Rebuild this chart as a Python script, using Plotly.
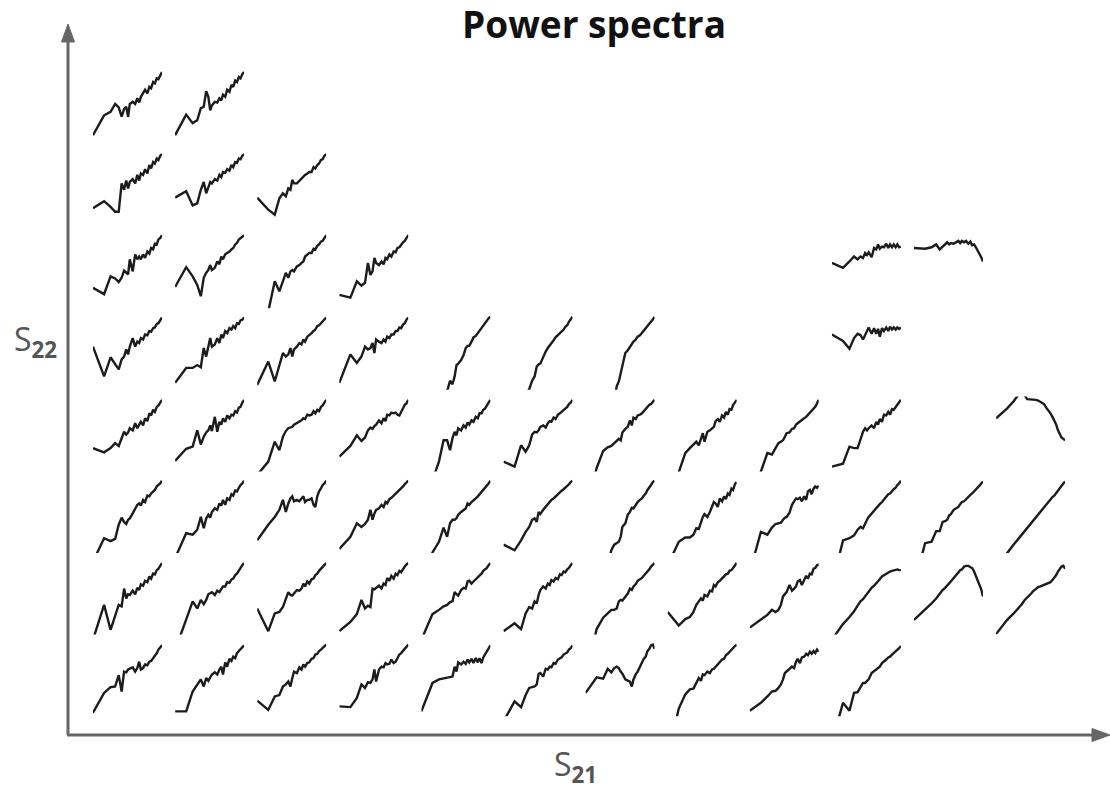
import plotly.graph_objects as go

# frequency bins (log-spaced index) shared by every spectrum
FREQ = [1, 2, 3, 4, 5, 6, 7, 8, 9, 10, 12, 14, 16, 18, 20, 23, 26, 30, 34, 38, 43, 48, 54, 60, 67, 75]

# normalised log power per panel, keyed by column (S21 index); one dict per row (S22 index, top row first)
row1 = {
    1: [.11,.39,.44,.55,.50,.37,.48,.51,.37,.55,.58,.55,.63,.57,.65,.70,.75,.70,.79,.77,.86,.84,.91,.90,.96,1.0],
    2: [.11,.40,.28,.32,.49,.51,.73,.65,.46,.53,.58,.57,.63,.60,.68,.65,.75,.72,.82,.79,.88,.86,.93,.91,.97,1.0],
}
row2 = {
    1: [.23,.33,.25,.18,.18,.58,.49,.62,.51,.60,.64,.58,.70,.62,.72,.70,.78,.72,.84,.79,.88,.86,.93,.91,.97,.99],
    2: [.38,.47,.27,.30,.49,.60,.44,.53,.60,.58,.64,.62,.70,.67,.74,.73,.78,.76,.84,.81,.88,.87,.93,.92,.97,.99],
    3: [.38,.21,.14,.37,.44,.40,.51,.49,.63,.58,.58,.62,.64,.67,.70,.72,.74,.74,.81,.79,.84,.86,.91,.92,.97,.99],
}
row3 = {
    1: [.26,.17,.42,.39,.34,.40,.50,.47,.45,.66,.49,.73,.66,.70,.66,.73,.68,.77,.74,.82,.80,.88,.87,.94,.96,1.0],
    2: [.27,.55,.42,.30,.14,.40,.47,.51,.58,.51,.54,.63,.59,.70,.66,.73,.75,.77,.80,.82,.87,.89,.94,.96,.98,1.0],
    3: [-.8,-.05,.35,.21,.37,.47,.40,.49,.51,.49,.56,.58,.61,.63,.70,.73,.75,.75,.81,.80,.85,.87,.91,.92,.97,1.0],
    4: [.16,.12,.35,.29,.33,.61,.44,.49,.68,.61,.58,.63,.59,.68,.66,.73,.70,.77,.76,.82,.83,.87,.90,.92,.97,1.0],
    10: [.61,.54,.63,.70,.66,.70,.68,.75,.72,.76,.69,.82,.80,.87,.81,.84,.83,.88,.82,.87,.83,.87,.83,.87,.83,.84],
    11: [.82,.81,.83,.87,.80,.84,.88,.90,.87,.89,.88,.90,.92,.89,.92,.90,.92,.88,.91,.86,.87,.83,.78,.75,.69,.63],
}
row4 = {
    1: [.58,.16,.43,.33,.26,.40,.44,.54,.47,.58,.70,.58,.65,.63,.70,.68,.75,.74,.80,.79,.84,.85,.90,.91,.96,.99],
    2: [.07,.28,.28,.32,.29,.56,.44,.58,.70,.58,.61,.70,.63,.75,.70,.80,.77,.84,.82,.87,.84,.91,.90,.95,.96,.99],
    3: [.04,.37,.09,.33,.49,.44,.47,.56,.44,.54,.58,.63,.61,.68,.65,.72,.75,.77,.80,.82,.87,.88,.91,.94,.96,.99],
    4: [.07,.47,.35,.44,.58,.54,.56,.63,.49,.68,.65,.63,.68,.65,.72,.70,.75,.75,.80,.80,.85,.84,.89,.91,.96,.99],
    5: [-1.5,-1.0,-.6,-.3,-.05,.10,.05,.16,.32,.34,.39,.46,.56,.59,.59,.65,.71,.73,.77,.80,.84,.88,.91,.95,.98,1.0],
    6: [-2.0,-1.2,-.5,-.1,-.02,.10,.16,.30,.33,.34,.44,.51,.56,.60,.64,.67,.71,.74,.77,.79,.82,.86,.88,.93,.96,1.0],
    7: [-3.0,-2.0,-1.5,-1.0,-.6,-.2,.02,.09,.20,.30,.49,.53,.58,.62,.65,.68,.72,.74,.78,.80,.84,.87,.90,.93,.96,1.0],
    10: [.75,.66,.55,.70,.76,.74,.68,.75,.82,.85,.76,.84,.76,.83,.72,.84,.80,.85,.80,.86,.82,.85,.82,.85,.83,.85],
}
row5 = {
    1: [.30,.24,.30,.37,.33,.44,.53,.49,.52,.58,.55,.65,.58,.63,.67,.62,.72,.68,.79,.76,.84,.81,.88,.90,.94,.98],
    2: [.12,.29,.32,.55,.35,.46,.52,.55,.62,.54,.74,.53,.67,.63,.72,.67,.76,.72,.77,.76,.82,.80,.87,.88,.94,.98],
    3: [-.08,.11,.39,.27,.46,.54,.58,.59,.60,.63,.65,.67,.69,.72,.71,.77,.76,.77,.82,.79,.84,.82,.88,.90,.95,.98],
    4: [.18,.33,.48,.40,.45,.55,.59,.57,.61,.63,.69,.65,.72,.68,.77,.76,.80,.79,.80,.77,.76,.82,.86,.91,.93,.98],
    5: [-1.0,-.15,.11,.41,.41,.27,.44,.53,.48,.58,.55,.62,.59,.66,.63,.69,.67,.74,.72,.79,.79,.84,.86,.91,.94,.98],
    6: [.11,.04,.34,.25,.34,.49,.53,.52,.55,.60,.62,.59,.65,.68,.67,.73,.71,.77,.79,.81,.84,.86,.88,.92,.94,.98],
    7: [-.6,.02,.26,.31,.33,.37,.39,.43,.41,.52,.57,.60,.69,.62,.73,.71,.76,.77,.79,.82,.85,.87,.91,.92,.95,.98],
    8: [-.5,-.02,.23,.30,.35,.39,.34,.44,.51,.39,.53,.55,.58,.60,.68,.71,.67,.76,.73,.81,.77,.85,.84,.91,.94,.98],
    9: [-.8,-.03,.23,.21,.30,.37,.39,.41,.46,.51,.52,.57,.58,.63,.65,.67,.69,.72,.74,.77,.79,.82,.85,.88,.93,.98],
    10: [.04,.08,.32,.30,.30,.44,.53,.58,.55,.58,.62,.58,.67,.63,.71,.67,.77,.76,.81,.77,.85,.84,.88,.91,.95,.98],
    12: [.72,.86,.96,1.05,1.08,1.04,.99,.99,.98,.99,.98,.97,.95,.93,.92,.87,.84,.79,.74,.69,.63,.55,.49,.45,.43,.41],
}
row6 = {
    1: [-.15,.18,.14,.17,.37,.47,.41,.38,.44,.46,.53,.60,.65,.67,.64,.72,.69,.78,.77,.81,.84,.86,.91,.93,.95,.99],
    2: [-.1,.25,.23,.30,.48,.32,.46,.51,.47,.55,.60,.58,.67,.64,.72,.65,.74,.72,.80,.78,.85,.84,.89,.93,.95,.99],
    3: [.15,.37,.48,.58,.72,.55,.67,.74,.77,.70,.72,.70,.74,.77,.69,.72,.72,.74,.65,.62,.77,.84,.88,.93,.95,.99],
    4: [.03,.20,.39,.34,.38,.44,.58,.44,.53,.58,.60,.65,.62,.69,.67,.73,.75,.78,.81,.84,.86,.88,.91,.94,.97,.99],
    5: [-.6,-.02,.13,.33,.20,.39,.44,.44,.46,.51,.55,.58,.60,.67,.65,.69,.72,.74,.77,.80,.83,.86,.88,.92,.95,.99],
    6: [.09,.01,.15,.27,.34,.44,.46,.41,.55,.52,.58,.62,.65,.69,.72,.74,.77,.80,.83,.85,.87,.89,.92,.94,.97,.99],
    7: [-2.0,-1.2,-.6,-.2,.01,.09,.11,.13,.20,.34,.39,.51,.55,.61,.60,.66,.69,.72,.74,.78,.81,.86,.89,.93,.97,.99],
    8: [-.2,.13,.19,.19,.23,.32,.31,.41,.48,.52,.48,.55,.62,.69,.67,.62,.74,.70,.77,.73,.81,.79,.88,.86,.94,.97],
    9: [-.3,.27,.23,.33,.38,.39,.40,.44,.47,.48,.54,.65,.69,.74,.73,.75,.70,.77,.72,.84,.86,.80,.88,.91,.89,.92],
    10: [-.5,.15,.18,.22,.30,.34,.32,.39,.44,.48,.53,.56,.60,.64,.66,.69,.73,.77,.80,.81,.85,.87,.89,.93,.95,.99],
    11: [-.5,.11,.13,.28,.28,.41,.42,.44,.50,.52,.58,.60,.62,.66,.69,.70,.73,.77,.79,.81,.84,.86,.88,.92,.95,.98],
    12: [-.8,-.03,.09,.17,.23,.29,.33,.37,.40,.42,.48,.51,.55,.58,.61,.65,.69,.73,.76,.78,.82,.86,.88,.92,.95,.98],
}
row7 = {
    1: [-.1,.39,.04,.22,.39,.37,.62,.48,.54,.53,.59,.54,.63,.60,.68,.66,.73,.71,.79,.76,.83,.82,.88,.90,.95,.98],
    2: [-.25,.18,.44,.34,.46,.40,.46,.54,.55,.57,.53,.59,.57,.62,.65,.65,.71,.70,.75,.76,.81,.83,.88,.91,.95,.98],
    3: [.34,.02,.27,.29,.36,.48,.57,.53,.52,.55,.60,.59,.62,.69,.65,.72,.69,.75,.76,.81,.83,.87,.90,.93,.95,.98],
    4: [.02,.15,.26,.46,.34,.38,.36,.62,.61,.63,.66,.62,.69,.67,.77,.73,.80,.76,.83,.81,.87,.85,.90,.93,.96,.98],
    5: [-.1,.26,.32,.37,.39,.43,.44,.57,.54,.52,.60,.63,.62,.72,.73,.69,.72,.75,.79,.80,.83,.87,.89,.91,.95,.98],
    6: [.02,.13,.05,.27,.36,.34,.44,.41,.53,.60,.65,.62,.69,.67,.74,.72,.77,.75,.82,.81,.86,.85,.89,.91,.95,.98],
    7: [-.6,.05,.21,.27,.32,.32,.34,.44,.46,.45,.51,.55,.62,.60,.65,.68,.73,.75,.77,.80,.83,.87,.89,.93,.95,.98],
    8: [.29,.10,.19,.22,.29,.39,.44,.48,.45,.53,.51,.59,.58,.67,.65,.71,.73,.76,.79,.82,.83,.87,.88,.91,.94,.98],
    9: [.07,.18,.25,.32,.29,.32,.39,.51,.54,.57,.67,.59,.62,.65,.72,.74,.67,.75,.80,.76,.83,.82,.90,.91,.95,.96],
    10: [-.1,.12,.22,.30,.38,.44,.47,.51,.55,.58,.63,.66,.69,.73,.75,.79,.81,.83,.85,.86,.87,.88,.89,.89,.88,.88],
    11: [.18,.32,.41,.48,.55,.60,.63,.66,.69,.72,.77,.81,.85,.88,.89,.93,.94,.94,.92,.91,.86,.80,.75,.67,.61,.51],
    12: [-.02,.18,.27,.34,.40,.46,.49,.52,.55,.58,.62,.64,.65,.66,.67,.68,.69,.71,.74,.77,.81,.86,.89,.93,.94,.90],
}
row8 = {
    1: [.02,.30,.38,.39,.55,.32,.60,.59,.63,.64,.66,.60,.65,.74,.63,.65,.70,.69,.74,.75,.79,.81,.86,.91,.94,.97],
    2: [.04,.04,.32,.42,.49,.39,.51,.47,.52,.56,.59,.56,.63,.67,.56,.73,.67,.78,.75,.81,.79,.86,.89,.92,.94,.97],
    3: [.19,.06,.25,.27,.39,.42,.46,.39,.51,.60,.58,.66,.63,.70,.67,.72,.73,.78,.79,.84,.85,.89,.91,.93,.96,.98],
    4: [.11,.10,.23,.42,.37,.45,.44,.49,.63,.46,.63,.67,.66,.72,.70,.71,.77,.72,.74,.79,.84,.86,.89,.92,.95,.98],
    5: [.04,.44,.49,.50,.51,.52,.53,.67,.60,.73,.70,.74,.71,.77,.73,.78,.72,.79,.73,.79,.72,.80,.84,.89,.93,.97],
    6: [-.1,.18,.10,.27,.37,.38,.39,.42,.57,.58,.53,.64,.63,.67,.66,.72,.71,.77,.79,.80,.84,.86,.87,.91,.93,.97],
    7: [.30,.52,.50,.64,.59,.65,.67,.65,.60,.57,.49,.47,.46,.39,.49,.56,.60,.67,.73,.78,.81,.89,.92,.97,.98,.92],
    8: [-.6,.08,.28,.35,.36,.44,.51,.47,.56,.55,.60,.58,.63,.64,.67,.70,.73,.77,.78,.83,.85,.88,.91,.93,.96,.98],
    9: [.05,.16,.25,.32,.33,.37,.42,.49,.58,.60,.64,.67,.65,.74,.78,.72,.80,.81,.85,.83,.88,.85,.89,.86,.91,.88],
    10: [-.4,.16,.05,.30,.31,.39,.44,.44,.47,.49,.58,.61,.63,.66,.67,.72,.74,.77,.80,.81,.84,.86,.88,.91,.93,.96],
}
ROWS = [row1, row2, row3, row4, row5, row6, row7, row8]

TITLE = "Power spectra"
X_LABEL = "S<sub><b>21</b></sub>"
Y_LABEL = "S<sub><b>22</b></sub>"

W, H = 1110, 792
COL_LEFT0, COL_STEP, PANEL_W = 93, 82.1, 69
ROW_TOP0, ROW_STEP, PANEL_H = 72, 81.6, 71
PAD = 2.0
LINE = "#1c1c1c"
AXIS = "#666666"
FONT = "Open Sans"

def px(x):
    return x / W

def py(y):
    return 1 - y / H

fig = go.Figure()
layout = {}
xr = [0, 1.8751]  # log10 range of FREQ
k = 0
for r, row in enumerate(ROWS):
    for c, vals in row.items():
        k += 1
        xa = "x" if k == 1 else f"x{k}"
        ya = "y" if k == 1 else f"y{k}"
        fig.add_trace(go.Scatter(x=FREQ, y=vals, mode="lines", xaxis=xa, yaxis=ya,
                                 line=dict(color=LINE, width=2.4), showlegend=False,
                                 hoverinfo="skip"))
        left = COL_LEFT0 + (c - 1) * COL_STEP
        top = ROW_TOP0 + r * ROW_STEP
        bottom = top + PANEL_H
        layout["xaxis" if k == 1 else f"xaxis{k}"] = dict(
            domain=[px(left), px(left + PANEL_W)], type="log", range=xr,
            visible=False, anchor=ya, fixedrange=True)
        layout["yaxis" if k == 1 else f"yaxis{k}"] = dict(
            domain=[py(bottom + PAD), py(top - PAD)],
            range=[-PAD / PANEL_H, 1 + PAD / PANEL_H],
            visible=False, anchor=xa, fixedrange=True)

fig.update_layout(**layout)

shapes = [
    dict(type="line", xref="paper", yref="paper", x0=px(68), y0=py(735), x1=px(68), y1=py(38),
         line=dict(color=AXIS, width=3)),
    dict(type="path", xref="paper", yref="paper",
         path=f"M {px(68)} {py(24)} L {px(61.5)} {py(42)} L {px(74.5)} {py(42)} Z",
         fillcolor=AXIS, line=dict(color=AXIS, width=1)),
    dict(type="line", xref="paper", yref="paper", x0=px(67), y0=py(735), x1=px(1096), y1=py(735),
         line=dict(color=AXIS, width=3)),
    dict(type="path", xref="paper", yref="paper",
         path=f"M {px(1110)} {py(735)} L {px(1092)} {py(728.5)} L {px(1092)} {py(741.5)} Z",
         fillcolor=AXIS, line=dict(color=AXIS, width=1)),
]

annotations = [
    dict(text=f"<b>{TITLE}</b>", x=px(594), y=py(24), xref="paper", yref="paper",
         showarrow=False, xanchor="center", yanchor="middle",
         font=dict(family=FONT, size=37, color="#111111")),
    dict(text=Y_LABEL, x=px(35), y=py(341), xref="paper", yref="paper",
         showarrow=False, xanchor="center", yanchor="middle",
         font=dict(family=FONT, size=32, color="#555555")),
    dict(text=X_LABEL, x=px(575), y=py(766), xref="paper", yref="paper",
         showarrow=False, xanchor="center", yanchor="middle",
         font=dict(family=FONT, size=32, color="#555555")),
]

fig.update_layout(width=W, height=H, margin=dict(l=0, r=0, t=0, b=0),
                  paper_bgcolor="white", plot_bgcolor="white",
                  shapes=shapes, annotations=annotations)

fig.write_html("out.html")
